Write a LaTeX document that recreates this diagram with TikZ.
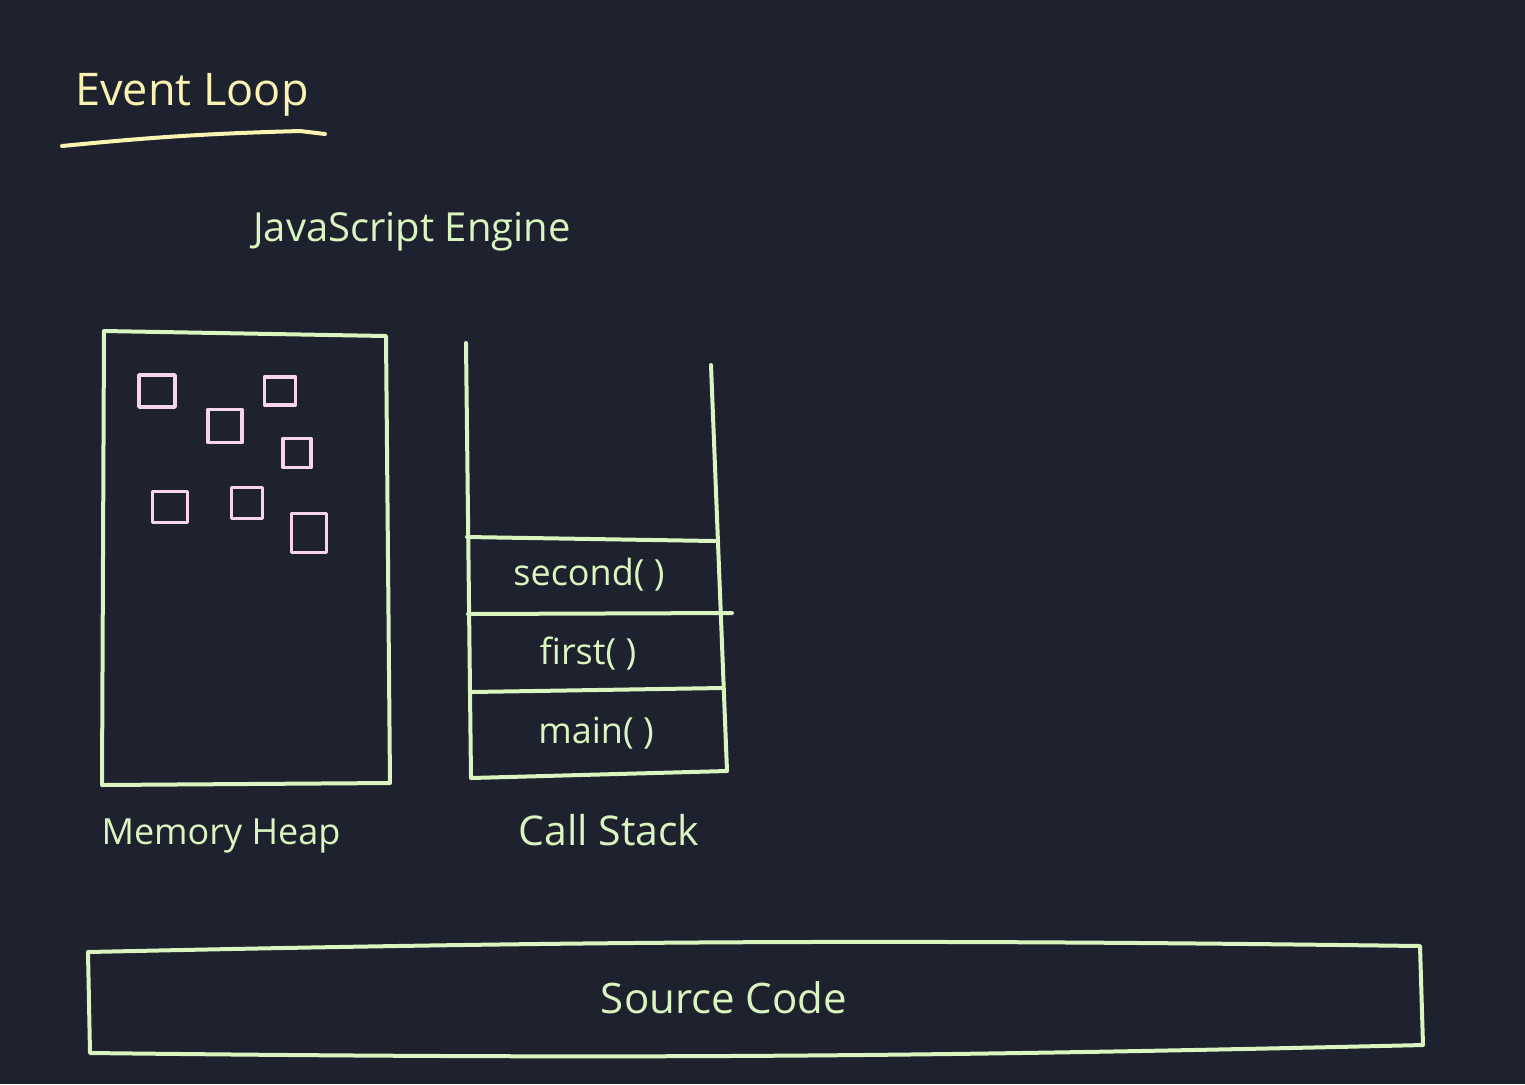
\documentclass[tikz,border=0pt]{standalone}
\usepackage{fontspec}
\setmainfont{Open Sans}
\definecolor{bg}{RGB}{30,34,47}
\definecolor{chalk}{RGB}{218,245,192}
\definecolor{pale}{RGB}{250,243,178}
\definecolor{rose}{RGB}{245,212,236}
\tikzset{ln/.style={draw=chalk,line width=2pt,line cap=round,line join=round},
 sq/.style={draw=rose,line width=1.8pt,line cap=round,line join=round,inner sep=0pt},
 t/.style={text=chalk,font=\fontsize{19}{22}\selectfont,inner sep=0pt},
 fr/.style={text=chalk,font=\fontsize{18}{20}\selectfont,inner sep=0pt}}

\begin{document}
\begin{tikzpicture}[x=0.5pt,y=-0.5pt]
\fill[bg](0,0)rectangle(1525,1084);
% title
\node[t,text=pale,font=\fontsize{22.5}{24}\selectfont](ttl)at(192,95){Event Loop};
\draw[ln,draw=pale](62,146)to[bend left=2](300,131)--(325,134);
\node[t,font=\fontsize{20}{22}\selectfont](eng)at(412,232){JavaScript Engine};
% heap
\draw[ln](104,331)--(386,336)--(390,783)--(102,785)--cycle;
\foreach \n/\x/\y/\w/\h in {1/157/391/36/32,2/280/391/31/28,3/225/426/34/33,4/297/453/28/29,5/170/507/35/31,6/247/503/31/31,7/309/533/35/39}
 \node[sq,minimum width=\w*0.5pt,minimum height=\h*0.5pt](h\n)at(\x,\y){};
\node[t,font=\fontsize{18}{20}\selectfont](heap)at(221,836){Memory Heap};
% stack
\draw[ln](466,343)--(471,778)--(727,771)--(711,365);
\draw[ln](467,537)--(715,541);\draw[ln](468,614)--(732,613);\draw[ln](471,692)--(722,688);
\node[fr](f2)at(589,575){second( )};\node[fr](f1)at(588,654){first( )};\node[fr](f0)at(596,733){main( )};
\node[t,font=\fontsize{20.5}{22}\selectfont](stk)at(609,830){Call Stack};
% source
\draw[ln](88,952)to[bend left=1](1420,946)--(1423,1045)to[bend left=1](90,1053)--cycle;
\node[t,font=\fontsize{21}{24}\selectfont](src)at(724,998){Source Code};
\end{tikzpicture}
\end{document}
